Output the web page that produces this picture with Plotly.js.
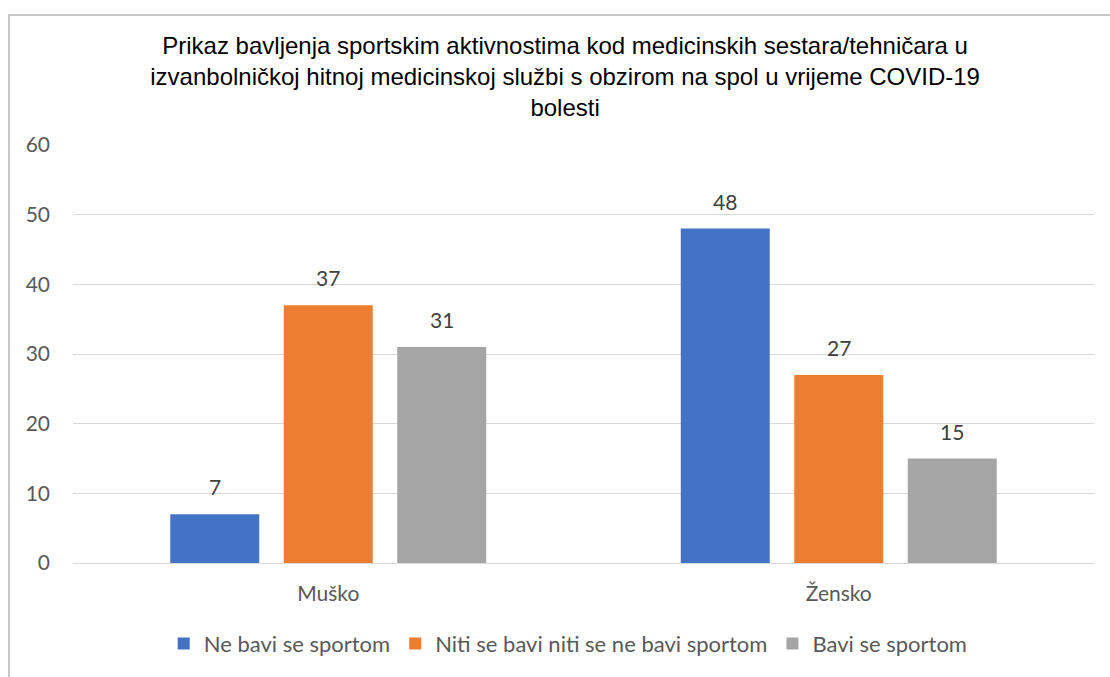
<!DOCTYPE html>
<html>
<head>
<meta charset="utf-8">
<script src="https://cdn.plot.ly/plotly-3.0.1.min.js"></script>
<style>
html,body{margin:0;padding:0;background:#fff;}
#wrap{position:relative;width:1110px;height:677px;overflow:hidden;}
#chart{position:absolute;left:0;top:0;width:1110px;height:677px;}
</style>
</head>
<body>
<div id="wrap"><div id="chart"></div></div>
<script>
const categories = ["Muško", "Žensko"];
const seriesNames = ["Ne bavi se sportom", "Niti se bavi niti se ne bavi sportom", "Bavi se sportom"];
const neBavi = [7, 48];
const niti = [37, 27];
const bavi = [31, 15];
const colors = ["#4472C4", "#ED7D31", "#A5A5A5"];
const yTicks = [0, 10, 20, 30, 40, 50, 60];

const values = [neBavi, niti, bavi];
const lblFont = "Lato, Noto Sans, sans-serif";
const traces = values.map((v, i) => ({
  type: "bar",
  name: seriesNames[i],
  x: categories,
  y: v,
  marker: {color: colors[i]},
  hoverinfo: "none"
}));

// data labels as annotations placed via the axis scale
const slotPx = 113.5;
const annotations = [];
values.forEach((v, i) => {
  v.forEach((val, j) => {
    annotations.push({
      x: categories[j], y: val, xref: "x", yref: "y",
      text: String(val), showarrow: false,
      xshift: (i - 1) * slotPx, yshift: 13, yanchor: "bottom",
      font: {family: lblFont, size: 21, color: "#404040"}
    });
  });
});

// chart frame (pixel positions converted to paper fractions)
const W = 1110, H = 677, mL = 73, mR = 16, mT = 145, mB = 114;
const pw = W - mL - mR, ph = H - mT - mB;
const px = v => (v - mL) / pw;
const py = v => (H - mB - v) / ph;

const layout = {
  width: W, height: H,
  margin: {l: mL, r: mR, t: mT, b: mB, autoexpand: false},
  paper_bgcolor: "#fff", plot_bgcolor: "#fff",
  barmode: "group",
  bargap: 0.333,
  bargroupgap: 0.216,
  showlegend: true,
  title: {
    text: "Prikaz bavljenja sportskim aktivnostima kod medicinskih sestara/tehničara u<br>izvanbolničkoj hitnoj medicinskoj službi s obzirom na spol u vrijeme COVID-19<br>bolesti",
    font: {family: "Liberation Sans, Arial, sans-serif", size: 24, color: "#000"},
    x: 0.482, xanchor: "center", xref: "paper",
    y: 1 - 54 / 677, yref: "container", yanchor: "top"
  },
  xaxis: {
    type: "category",
    tickfont: {family: lblFont, size: 21, color: "#595959"},
    showline: false, ticks: "", showgrid: false,
    ticklabelstandoff: 16
  },
  yaxis: {
    range: [0, 60],
    tickvals: yTicks,
    ticktext: yTicks.map(String),
    tickfont: {family: lblFont, size: 21, color: "#595959"},
    showgrid: true, gridcolor: "#d9d9d9", gridwidth: 1,
    zeroline: true, zerolinecolor: "#d9d9d9", zerolinewidth: 1,
    showline: false, ticks: "",
    ticklabelstandoff: 22
  },
  legend: {
    orientation: "h", x: 0.485, xanchor: "center", y: -0.143, yanchor: "top",
    font: {family: lblFont, size: 22, color: "#595959"},
    itemwidth: 30, traceorder: "normal"
  },
  annotations: annotations,
  shapes: [
    {type: "line", xref: "paper", yref: "paper", x0: px(9), x1: px(1112), y0: py(15), y1: py(15),
     line: {color: "#c8c8c8", width: 2}, layer: "above"},
    {type: "line", xref: "paper", yref: "paper", x0: px(9), x1: px(9), y0: py(14), y1: py(680),
     line: {color: "#c8c8c8", width: 2}, layer: "above"}
  ]
};

Plotly.newPlot("chart", traces, layout, {displayModeBar: false, staticPlot: true});
</script>
</body>
</html>
